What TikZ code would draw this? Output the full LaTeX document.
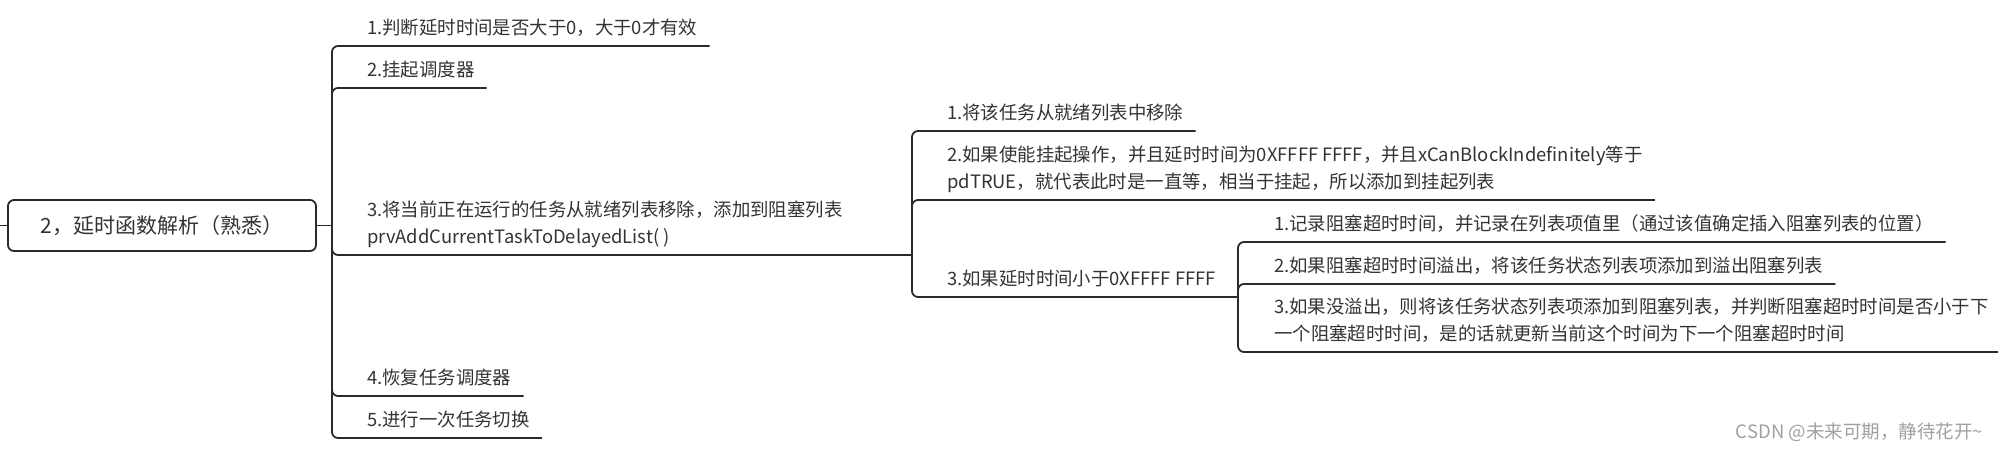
\documentclass[tikz,border=0pt]{standalone}
\usepackage{fontspec}
\setmainfont{Noto Sans CJK SC}
\usetikzlibrary{calc}
\definecolor{linec}{HTML}{2A2A2A}
\definecolor{textc}{HTML}{333333}
\definecolor{markc}{HTML}{A0A0A0}
\begin{document}
\begin{tikzpicture}[x=1pt,y=-1pt,
  conn/.style={draw=linec, line width=1.8pt, rounded corners=6pt},
  topic/.style={anchor=south west, inner xsep=12pt, inner ysep=0pt, text depth=11pt,
    align=left, text=textc, font=\fontsize{18.4}{27}\selectfont},
  rootbox/.style={draw=linec, line width=1.8pt, rounded corners=6pt, minimum width=308pt,
    minimum height=51pt, inner sep=0pt, text=textc, font=\fontsize{21}{26}\selectfont},
  wmark/.style={anchor=east, inner sep=0pt, text=markc, font=\fontsize{18.5}{22}\selectfont}]
\useasboundingbox (0,0) rectangle (1998,451);

% root
\node[rootbox] (root) at (162,225.5) {2，延时函数解析（熟悉）\hspace{12pt}};
\coordinate (stub) at (0,225.5);
\draw[conn] (stub) -- (root.west);

% level 1
\coordinate (j1) at (332,225.5);
\draw[conn] (root.east) -- (j1);
\node[topic] (a1) at (355,46) {1.判断延时时间是否大于0，大于0才有效};
\node[topic] (a2) at (355,88) {2.挂起调度器};
\node[topic] (a3) at (355,255) {3.将当前正在运行的任务从就绪列表移除，添加到阻塞列表\\prvAddCurrentTaskToDelayedList( )};
\node[topic] (a4) at (355,396) {4.恢复任务调度器};
\node[topic] (a5) at (355,438) {5.进行一次任务切换};
\coordinate (j2) at (912,255);
\draw[conn] (j1) |- (a1.south east);
\draw[conn] (j1) |- (a2.south east);
\draw[conn] (j1) |- (j2);
\draw[conn] (j1) |- (a4.south east);
\draw[conn] (j1) |- (a5.south east);

% level 2
\node[topic] (b1) at (935,131) {1.将该任务从就绪列表中移除};
\node[topic] (b2) at (935,200) {2.如果使能挂起操作，并且延时时间为0XFFFF FFFF，并且xCanBlockIndefinitely等于\\pdTRUE，就代表此时是一直等，相当于挂起，所以添加到挂起列表};
\node[topic] (b3) at (935,297) {3.如果延时时间小于0XFFFF FFFF};
\coordinate (j3) at (1238,297);
\draw[conn] (j2) |- (b1.south east);
\draw[conn] (j2) |- (b2.south east);
\draw[conn] (j2) |- (j3);

% level 3
\node[topic] (c1) at (1262,242) {1.记录阻塞超时时间，并记录在列表项值里（通过该值确定插入阻塞列表的位置）};
\node[topic] (c2) at (1262,284) {2.如果阻塞超时时间溢出，将该任务状态列表项添加到溢出阻塞列表};
\node[topic] (c3) at (1262,352) {3.如果没溢出，则将该任务状态列表项添加到阻塞列表，并判断阻塞超时时间是否小于下\\一个阻塞超时时间，是的话就更新当前这个时间为下一个阻塞超时时间};
\coordinate (c3e) at (1998,352);
\draw[conn] (j3) |- (c1.south east);
\draw[conn] (j3) |- (c2.south east);
\draw[conn] (j3) |- (c3e);

% watermark
\node[wmark] (wm) at (1983,432) {CSDN @未来可期，静待花开\textasciitilde};
\end{tikzpicture}
\end{document}
